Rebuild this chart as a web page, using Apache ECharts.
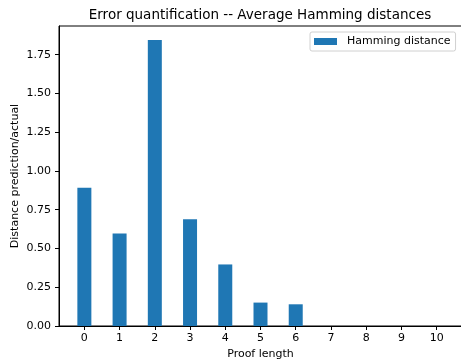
<!DOCTYPE html>
<html>
<head>
<meta charset="utf-8">
<script src="https://cdn.jsdelivr.net/npm/echarts@6/dist/echarts.min.js"></script>
<style>
  html, body { margin: 0; padding: 0; background: #fff; }
  #chart { width: 461px; height: 359px; }
</style>
</head>
<body>
<div id="chart"></div>
<script>
// proof lengths and their average hamming distance
const proofLengths = [0, 1, 2, 3, 4, 5, 6, 7, 8, 9, 10];
const hammingDist = [0.892, 0.597, 1.845, 0.688, 0.397, 0.151, 0.140, 0, 0, 0, 0];
const yTicks = [0, 0.25, 0.5, 0.75, 1.0, 1.25, 1.5, 1.75];

const font = "DejaVu Sans";
const chart = echarts.init(document.getElementById("chart"), null, { renderer: "canvas" });

chart.setOption({
    animation: false,
    backgroundColor: "#fff",
    title: {
        text: "Error quantification -- Average Hamming distances",
        left: 255,
        top: 3,
        textAlign: "center",
        textStyle: { fontFamily: font, fontSize: 13.5, fontWeight: "normal", color: "#000" }
    },
    legend: {
        left: 310,
        top: 32,
        padding: [4, 5, 4, 4],
        borderColor: "#d0d0d0",
        borderWidth: 1,
        borderRadius: 2,
        itemWidth: 23,
        itemHeight: 7,
        icon: "rect",
        textStyle: { fontFamily: font, fontSize: 11, color: "#000", padding: [0, 0, 0, 5] },
        data: ["Hamming distance"]
    },
    grid: {
        left: 59,
        top: 26,
        right: -1,
        bottom: 33,
        outerBoundsMode: "none",
        show: true,
        borderColor: "#000",
        borderWidth: 1
    },
    xAxis: {
        type: "value",
        min: -0.72,
        max: 10.72,
        name: "Proof length",
        nameLocation: "middle",
        nameGap: 21,
        nameTextStyle: { fontFamily: font, fontSize: 11, color: "#000" },
        splitLine: { show: false },
        axisLine: { show: true, onZero: false, lineStyle: { color: "#000", width: 1 } },
        axisTick: { show: true, length: 4, lineStyle: { color: "#000" }, customValues: proofLengths },
        axisLabel: {
            fontFamily: font, fontSize: 11, color: "#000", margin: 7,
            customValues: proofLengths,
            formatter: (v) => String(v)
        }
    },
    yAxis: {
        type: "value",
        min: 0,
        max: 1.935,
        name: "Distance prediction/actual",
        nameLocation: "middle",
        nameGap: 38,
        nameMoveOverlap: false,
        nameTextStyle: { fontFamily: font, fontSize: 11, color: "#000" },
        splitLine: { show: false },
        axisLine: { show: true, onZero: false, lineStyle: { color: "#000", width: 1 } },
        axisTick: { show: true, length: 4, lineStyle: { color: "#000" }, customValues: yTicks },
        axisLabel: {
            fontFamily: font, fontSize: 11, color: "#000", margin: 8,
            customValues: yTicks,
            formatter: (v) => v.toFixed(2)
        }
    },
    series: [
        {
            name: "Hamming distance",
            type: "bar",
            barWidth: 14,
            itemStyle: { color: "#1f77b4" },
            data: proofLengths.map((x, i) => [x, hammingDist[i]])
        }
    ]
});
</script>
</body>
</html>
